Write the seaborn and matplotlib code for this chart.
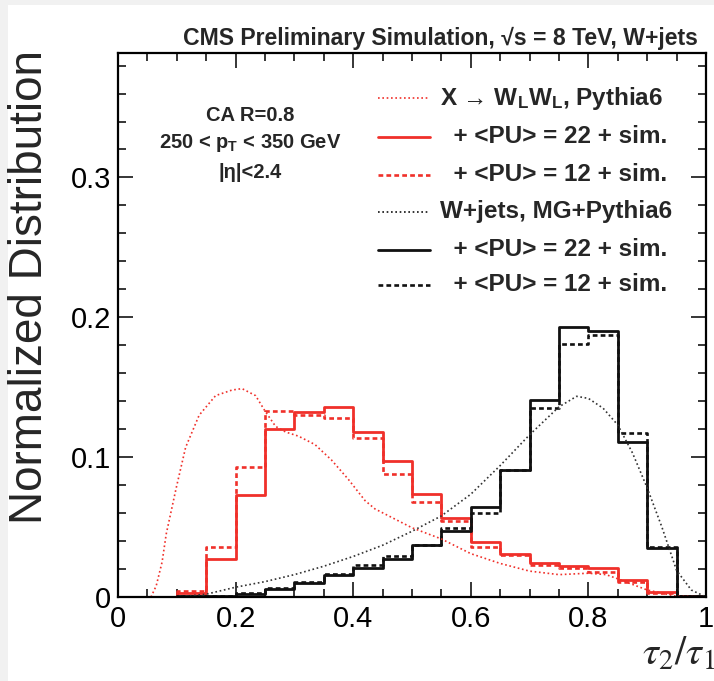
#!/usr/bin/env python3
# -*- coding: utf-8 -*-
'''
CMS tau2/tau1 distributions: X -> WLWL signal vs W+jets, step histograms + generator curves
'''

import numpy as np
import pandas as pd
import seaborn as sns
import matplotlib.pyplot as plt
from matplotlib.ticker import MultipleLocator

# bins of tau2/tau1 (20 bins of 0.05)
bin_edges = np.round(np.arange(0, 1.0001, 0.05), 3)
bin_centers = (bin_edges[:-1] + bin_edges[1:]) / 2

# signal X -> WLWL, detector simulation
sig_pu22 = [0.0, 0.0, 0.003, 0.027, 0.073, 0.120, 0.132, 0.136, 0.118, 0.097,
            0.0735, 0.0565, 0.039, 0.031, 0.0244, 0.022, 0.0206, 0.012, 0.0036, 0.0005]
sig_pu12 = [0.0, 0.0, 0.004, 0.036, 0.093, 0.133, 0.130, 0.128, 0.114, 0.088,
            0.068, 0.0546, 0.0356, 0.0297, 0.023, 0.021, 0.018, 0.011, 0.003, 0.0005]
# W+jets background, detector simulation
bkg_pu22 = [0.0, 0.0, 0.0005, 0.001, 0.002, 0.006, 0.010, 0.0155, 0.021, 0.027,
            0.037, 0.047, 0.064, 0.091, 0.141, 0.193, 0.190, 0.111, 0.035, 0.001]
bkg_pu12 = [0.0, 0.0, 0.0005, 0.001, 0.003, 0.0067, 0.011, 0.0167, 0.023, 0.029,
            0.037, 0.049, 0.060, 0.091, 0.135, 0.181, 0.187, 0.117, 0.0356, 0.001]

# generator level curves (Pythia6 / MG+Pythia6)
sig_gen_x = [0.0, 0.02, 0.04, 0.055, 0.065, 0.075, 0.082, 0.099, 0.115, 0.138, 0.166,
             0.194, 0.211, 0.234, 0.25, 0.268, 0.285, 0.307, 0.335, 0.363, 0.392,
             0.42, 0.437, 0.465, 0.5, 0.55, 0.6, 0.65, 0.7, 0.75, 0.8, 0.83, 0.85,
             0.9, 0.95, 1.0]
sig_gen_y = [0.0, -0.001, -0.003, -0.001, 0.008, 0.025, 0.045, 0.078, 0.107, 0.130, 0.144,
             0.148, 0.149, 0.144, 0.133, 0.122, 0.118, 0.115, 0.109, 0.098, 0.084,
             0.069, 0.063, 0.057, 0.0495, 0.0415, 0.031, 0.024, 0.0185, 0.016, 0.017, 0.016, 0.013,
             0.005, 0.0005, 0.0]
bkg_gen_x = [0.1, 0.15, 0.2, 0.25, 0.3, 0.35, 0.4, 0.45, 0.5, 0.55, 0.6, 0.65, 0.7,
             0.75, 0.78, 0.8, 0.825, 0.85, 0.875, 0.9, 0.925, 0.95, 0.975, 1.0]
bkg_gen_y = [0.0, 0.002, 0.007, 0.011, 0.016, 0.022, 0.029, 0.037, 0.047, 0.058, 0.0735,
             0.094, 0.116, 0.136, 0.1435, 0.142, 0.135, 0.123, 0.103, 0.078, 0.05,
             0.019, 0.005, 0.0]

legend_labels = [r"X → W$_\mathregular{L}$W$_\mathregular{L}$, Pythia6",
                 "  + <PU> = 22 + sim.", "  + <PU> = 12 + sim.",
                 "W+jets, MG+Pythia6",
                 "  + <PU> = 22 + sim.", "  + <PU> = 12 + sim."]

hists = pd.DataFrame({"tau21": bin_centers, "sig_pu22": sig_pu22, "sig_pu12": sig_pu12,
                      "bkg_pu22": bkg_pu22, "bkg_pu12": bkg_pu12})

RED = "#f0302a"
BLACK = "#111111"

sns.set_style("ticks")
plt.rcParams['font.family'] = ['Liberation Sans', 'DejaVu Sans']
plt.rcParams['mathtext.fontset'] = 'custom'
plt.rcParams['mathtext.rm'] = 'Liberation Sans:bold'
plt.rcParams['mathtext.it'] = 'Liberation Sans:bold'
plt.rcParams['mathtext.bf'] = 'Liberation Sans:bold'

fig = plt.figure(figsize=(7.14, 6.81), dpi=100)
fig.patch.set_facecolor('#f1f1f1')
fig.add_artist(plt.Rectangle((8 / 714, 0), 1, 1 - 5 / 681, transform=fig.transFigure,
                             facecolor='white', edgecolor='none', zorder=-5))
ax = fig.add_axes([118 / 714, 1 - 597 / 681, 588 / 714, 544 / 681])

solid = dict(linewidth=2.0, linestyle='-')
dashed = dict(linewidth=1.9, linestyle=(0, (1.8, 1.2)))
dotted = dict(linewidth=1.2, linestyle=(0, (1, 1.6)))

for col, c, st in [("sig_pu12", RED, dashed), ("sig_pu22", RED, solid),
                   ("bkg_pu12", BLACK, dashed), ("bkg_pu22", BLACK, solid)]:
    sns.histplot(data=hists, x="tau21", weights=col, bins=list(bin_edges), element="step",
                 fill=False, color=c, ax=ax, **st)
sns.lineplot(x=sig_gen_x, y=sig_gen_y, color=RED, ax=ax, **dotted)
sns.lineplot(x=bkg_gen_x, y=bkg_gen_y, color="#333333", ax=ax, **dotted)

ax.set_xlim(0, 1)
ax.set_ylim(0, 0.389)
ax.xaxis.set_major_locator(MultipleLocator(0.2))
ax.xaxis.set_minor_locator(MultipleLocator(0.05))
ax.yaxis.set_major_locator(MultipleLocator(0.1))
ax.yaxis.set_minor_locator(MultipleLocator(0.02))
ax.xaxis.set_major_formatter(plt.FuncFormatter(
    lambda v, p: "0" if abs(v) < 1e-9 else ("1" if abs(v - 1) < 1e-9 else f"{v:.1f}")))
ax.yaxis.set_major_formatter(plt.FuncFormatter(lambda v, p: "0" if abs(v) < 1e-9 else f"{v:.1f}"))
ax.tick_params(which='both', direction='in', top=True, right=True, width=1.1, colors='black',
               labelsize=21)
ax.tick_params(which='major', length=11)
ax.tick_params(which='minor', length=6)
ax.tick_params(axis='x', pad=6)
ax.tick_params(axis='y', pad=5)
for s in ax.spines.values():
    s.set_linewidth(1.6)
    s.set_color('black')

ax.set_ylabel("Normalized Distribution", fontsize=33, loc='top')
ax.yaxis.set_label_coords(-0.112, 1.005)
ax.set_xlabel(r"$\tau_2/\tau_1$", fontsize=29, loc='right', math_fontfamily='stix')
ax.xaxis.set_label_coords(1.015, -0.07)

fig.text(698 / 714, 1 - 45 / 681, "CMS Preliminary Simulation, √s = 8 TeV, W+jets",
         ha='right', va='baseline', fontsize=16.6, fontweight='bold')

ax.text(0.224, 0.886, "CA R=0.8", transform=ax.transAxes, ha='center', va='center',
        fontsize=14.5, fontweight='bold')
ax.text(0.224, 0.835, r"250 < p$_\mathregular{T}$ < 350 GeV", transform=ax.transAxes,
        ha='center', va='center', fontsize=14.5, fontweight='bold')
ax.text(0.224, 0.781, "|η|<2.4", transform=ax.transAxes, ha='center', va='center',
        fontsize=14.5, fontweight='bold')

# legend drawn by hand, like ROOT's TLegend
leg_y = [0.917, 0.846, 0.776, 0.708, 0.638, 0.574]
leg_styles = [(RED, dotted), (RED, solid), (RED, dashed),
              (BLACK, dotted), (BLACK, solid), (BLACK, dashed)]
for yy, lab, (c, st) in zip(leg_y, legend_labels, leg_styles):
    ax.plot([0.442, 0.531], [yy, yy], transform=ax.transAxes, color=c, **st)
    ax.text(0.548, yy, lab, transform=ax.transAxes, ha='left', va='center',
            fontsize=17.5, fontweight='bold')

fig.savefig("out.png", dpi=100, facecolor=fig.get_facecolor())
